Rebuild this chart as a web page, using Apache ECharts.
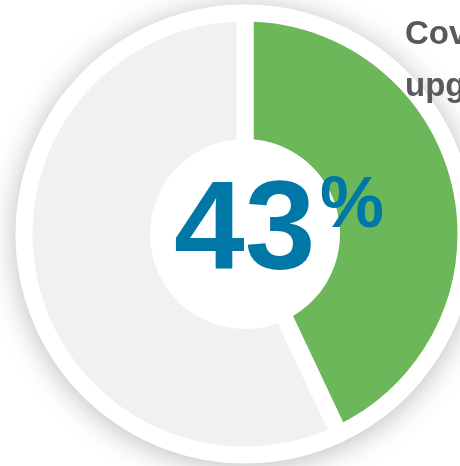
<!DOCTYPE html>
<html>
<head>
<meta charset="utf-8">
<script src="https://cdn.jsdelivr.net/npm/echarts@6/dist/echarts.min.js"></script>
<style>
html,body{margin:0;padding:0;background:#fff;}
#chart{width:460px;height:466px;}
</style>
</head>
<body>
<div id="chart"></div>
<script>
const categories = ['Covered', 'Not covered'];
const values = [43, 57];
const sliceColors = ['#6cb75a', '#f0f1f3'];
const titleLines = ['Coverage', 'upgrades'];

const chart = echarts.init(document.getElementById('chart'), null, {renderer: 'canvas'});
const cx = 245, cy = 234;

chart.setOption({
  animation: false,
  graphic: [
    {
      type: 'circle', z: 0, silent: true,
      shape: {cx: cx, cy: cy, r: 229},
      style: {fill: '#ffffff', shadowBlur: 30, shadowColor: 'rgba(0,0,0,0.28)', shadowOffsetY: 3}
    },
    {
      type: 'text', z: 100, silent: true,
      style: {
        text: String(values[0]), x: 174, y: 234,
        font: 'bold 127px "Liberation Sans Narrow", "Liberation Sans", sans-serif',
        fill: '#0077a6', textAlign: 'left', verticalAlign: 'middle'
      }
    },
    {
      type: 'text', z: 100, silent: true,
      style: {
        text: '%', x: 320, y: 207,
        font: 'bold 72px "Liberation Sans Narrow", "Liberation Sans", sans-serif',
        fill: '#0077a6', textAlign: 'left', verticalAlign: 'middle'
      }
    },
    {
      type: 'text', z: 100, silent: true,
      style: {
        text: titleLines[0], x: 405, y: 35,
        font: 'bold 33px "Liberation Sans", Arial, sans-serif',
        fill: '#58595b', textAlign: 'left', verticalAlign: 'middle'
      }
    },
    {
      type: 'text', z: 100, silent: true,
      style: {
        text: titleLines[1], x: 405, y: 87,
        font: 'bold 33px "Liberation Sans", Arial, sans-serif',
        fill: '#58595b', textAlign: 'left', verticalAlign: 'middle'
      }
    }
  ],
  series: [{
    type: 'pie',
    silent: true,
    center: [cx, cy],
    radius: [86.5, 221],
    startAngle: 90,
    clockwise: true,
    label: {show: false},
    labelLine: {show: false},
    itemStyle: {borderColor: '#ffffff', borderWidth: 17},
    emphasis: {disabled: true},
    data: categories.map((c, i) => ({name: c, value: values[i], itemStyle: {color: sliceColors[i]}}))
  }]
});
</script>
</body>
</html>
